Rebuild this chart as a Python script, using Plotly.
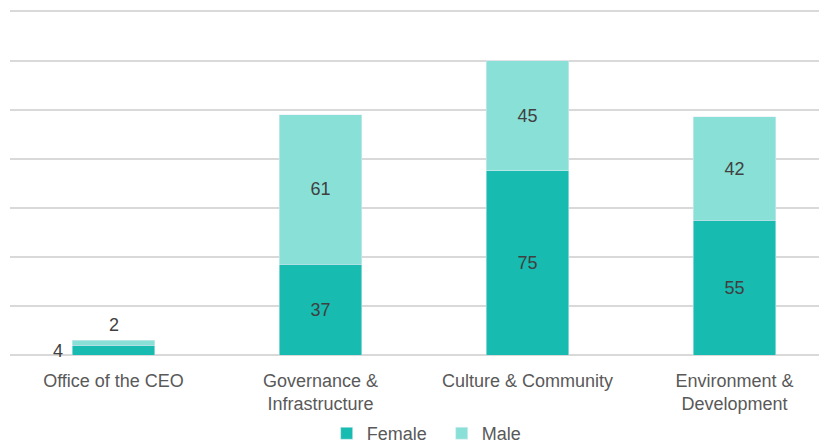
import plotly.graph_objects as go

categories = ["Office of the CEO", "Governance &<br>Infrastructure", "Culture & Community", "Environment &<br>Development"]
female = [4, 37, 75, 55]
male = [2, 61, 45, 42]

female_text = ["" if i == 0 else str(v) for i, v in enumerate(female)]
male_text = ["" if i == 0 else str(v) for i, v in enumerate(male)]

label_font = dict(color="#404040", size=18, family="Liberation Sans, Arial, sans-serif")

fig = go.Figure()
fig.add_trace(go.Bar(x=categories, y=female, name="Female\u00a0\u00a0", marker_color="#17BBB0",
                     text=female_text, textposition="inside", insidetextanchor="middle",
                     textfont=label_font, width=0.4))
fig.add_trace(go.Bar(x=categories, y=male, name="Male", marker_color="#88E0D7",
                     text=male_text, textposition="inside", insidetextanchor="middle",
                     textfont=label_font, width=0.4))

fig.add_annotation(x=categories[0], y=female[0] / 2, text=str(female[0]), showarrow=False,
                   xshift=-56, yshift=-1, font=label_font)
fig.add_annotation(x=categories[0], y=female[0] + male[0], text=str(male[0]), showarrow=False,
                   yanchor="bottom", yshift=3, font=label_font)

# page body has an 8px margin; compensate so the plot lands where the reference has it
fig.update_layout(
    width=819, height=436,
    barmode="stack",
    margin=dict(l=2, r=0, t=2, b=89, autoexpand=False),
    paper_bgcolor="white", plot_bgcolor="white",
    font=dict(family="Liberation Sans, Arial, sans-serif", color="#595959", size=18),
    showlegend=True,
    legend=dict(orientation="h", x=0.510, xanchor="center", yref="container", y=0.024, yanchor="middle",
                font=dict(size=18, color="#595959"), itemwidth=30, traceorder="normal"),
    uniformtext=dict(mode="show", minsize=10),
)
fig.update_xaxes(range=[-0.5, 3.447], showgrid=False, showline=False, ticks="", automargin=False,
                 tickfont=dict(size=18, color="#595959"), ticklabelstandoff=13)
fig.update_yaxes(range=[0, 140.6], dtick=20, showgrid=True, gridcolor="#D9D9D9", gridwidth=1.5,
                 showticklabels=False, automargin=False,
                 zeroline=True, zerolinecolor="#D9D9D9", zerolinewidth=1.5)

fig.write_html("out.html")
